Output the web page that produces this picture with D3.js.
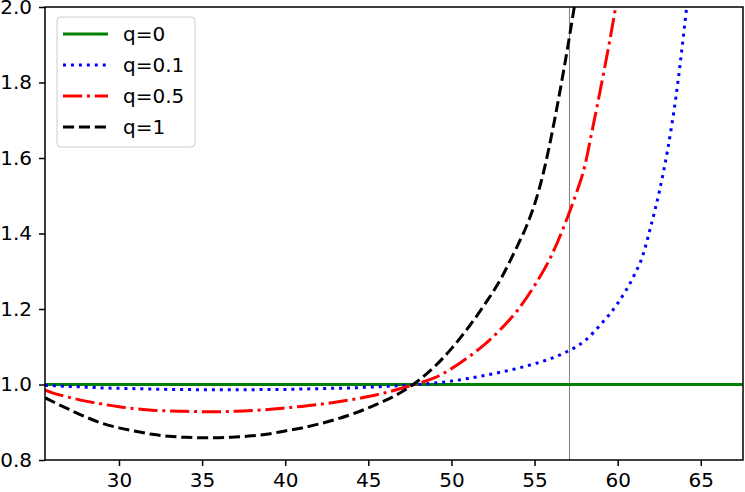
<!DOCTYPE html>
<html>
<head>
<meta charset="utf-8">
<script src="https://cdn.jsdelivr.net/npm/d3@7"></script>
<style>
  body { margin: 0; background: #fff; }
  svg { display: block; font-family: "DejaVu Sans", sans-serif; }
</style>
</head>
<body>
<div id="chart"></div>
<script>
// ---- data ----
const labels = ["q=0", "q=0.1", "q=0.5", "q=1"];
const xTicks = [30, 35, 40, 45, 50, 55, 60, 65];
const yTicks = [0.8, 1.0, 1.2, 1.4, 1.6, 1.8, 2.0];
const markerX = 57.1;

const xQ0 = [25.55, 67.54];
const yQ0 = [1.0, 1.0];

const xQ01 = [25.55, 26, 27, 28, 29, 30, 31, 32, 33, 34, 35, 36, 37, 38, 39, 40, 41, 42, 43, 44, 45, 46, 47, 48,
              49, 50, 51, 52, 53, 54, 55, 56, 57, 58, 59, 60, 61, 61.5, 62, 62.5, 63, 63.5, 64, 64.3];
const yQ01 = [0.998, 0.997, 0.995, 0.993, 0.991, 0.990, 0.989, 0.988, 0.987, 0.987, 0.986, 0.986, 0.986, 0.986,
              0.987, 0.987, 0.988, 0.989, 0.990, 0.991, 0.993, 0.995, 0.997, 1.000, 1.004, 1.009, 1.016, 1.024,
              1.033, 1.043, 1.055, 1.069, 1.088, 1.115, 1.160, 1.215, 1.290, 1.340, 1.420, 1.510, 1.620, 1.760,
              1.940, 2.060];

const xQ05 = [25.55, 26, 27, 28, 29, 30, 31, 32, 33, 34, 35, 36, 37, 38, 39, 40, 41, 42, 43, 44, 45, 46, 47, 48,
              49, 50, 51, 52, 53, 54, 55, 56, 57, 57.5, 58, 58.5, 59, 59.5, 60, 60.2];
const yQ05 = [0.985, 0.978, 0.966, 0.956, 0.948, 0.941, 0.936, 0.932, 0.930, 0.929, 0.928, 0.928, 0.929, 0.931,
              0.934, 0.938, 0.942, 0.947, 0.953, 0.960, 0.968, 0.978, 0.990, 1.003, 1.018, 1.042, 1.072, 1.106,
              1.148, 1.198, 1.262, 1.340, 1.445, 1.505, 1.575, 1.680, 1.790, 1.905, 2.030, 2.080];

const xQ1 = [25.55, 26, 27, 28, 29, 30, 31, 32, 33, 34, 35, 36, 37, 38, 39, 40, 41, 42, 43, 44, 45, 46, 47, 48,
             49, 50, 51, 52, 53, 53.5, 54, 54.5, 55, 55.5, 56, 56.5, 57, 57.5, 57.7];
const yQ1 = [0.965, 0.955, 0.934, 0.914, 0.897, 0.885, 0.876, 0.868, 0.863, 0.860, 0.859, 0.859, 0.861, 0.864,
             0.869, 0.877, 0.885, 0.895, 0.907, 0.921, 0.938, 0.957, 0.980, 1.010, 1.048, 1.095, 1.150, 1.212,
             1.282, 1.325, 1.370, 1.418, 1.477, 1.555, 1.655, 1.770, 1.895, 2.030, 2.085];

const series = [
  {label: labels[0], xs: xQ0, ys: yQ0, color: "green", dash: null},
  {label: labels[1], xs: xQ01, ys: yQ01, color: "blue", dash: "3,4.95"},
  {label: labels[2], xs: xQ05, ys: yQ05, color: "red", dash: "19.2,4.8,3,4.8"},
  {label: labels[3], xs: xQ1, ys: yQ1, color: "black", dash: "11.1,4.8"},
];

// ---- layout ----
let config_size = {
  svg_width: 745,
  svg_height: 492,
  plot_margin: {left: 45, right: 2, top: 7, bottom: 32},
};
let plot_width = config_size.svg_width - config_size.plot_margin.left - config_size.plot_margin.right;
let plot_height = config_size.svg_height - config_size.plot_margin.top - config_size.plot_margin.bottom;

let svg = d3.select("#chart").append("svg")
  .attr("width", config_size.svg_width).attr("height", config_size.svg_height);
let plot_g = svg.append("g")
  .attr("transform", `translate(${config_size.plot_margin.left},${config_size.plot_margin.top})`);

let x = d3.scaleLinear().domain([25.55, 67.54]).range([0, plot_width]);
let y = d3.scaleLinear().domain([0.8, 2.0]).range([plot_height, 0]);

plot_g.append("clipPath").attr("id", "clip")
  .append("rect").attr("width", plot_width).attr("height", plot_height);

let lines_g = plot_g.append("g").attr("clip-path", "url(#clip)");

// thin gray marker
lines_g.append("line")
  .attr("x1", x(markerX)).attr("x2", x(markerX))
  .attr("y1", 0).attr("y2", plot_height)
  .attr("stroke", "#808080").attr("stroke-width", 1);

let line = d3.line().curve(d3.curveMonotoneX);
series.forEach(s => {
  lines_g.append("path")
    .datum(s.xs.map((v, i) => [x(v), y(s.ys[i])]))
    .attr("fill", "none")
    .attr("stroke", s.color)
    .attr("stroke-width", 3)
    .attr("stroke-dasharray", s.dash)
    .attr("d", line);
});

// axes
let xAxis = plot_g.append("g")
  .attr("transform", `translate(0,${plot_height})`)
  .call(d3.axisBottom(x).tickValues(xTicks).tickFormat(d3.format("d")).tickSizeOuter(0).tickSize(6).tickPadding(7));
let yAxis = plot_g.append("g")
  .call(d3.axisLeft(y).tickValues(yTicks).tickFormat(d3.format(".1f")).tickSizeOuter(0).tickSize(6).tickPadding(7));
[xAxis, yAxis].forEach(a => {
  a.select(".domain").remove();
  a.selectAll(".tick line").attr("stroke", "#000").attr("stroke-width", 1.5);
  a.selectAll(".tick text").attr("fill", "#000").style("font-size", "20px")
    .style("font-family", "'DejaVu Sans', sans-serif");
});

// frame
plot_g.append("rect")
  .attr("width", plot_width).attr("height", plot_height)
  .attr("fill", "none").attr("stroke", "#000").attr("stroke-width", 1.5);

// legend
let legend = plot_g.append("g").attr("transform", `translate(12,10)`);
legend.append("rect")
  .attr("width", 138).attr("height", 130).attr("rx", 4)
  .attr("fill", "#fff").attr("fill-opacity", 0.8)
  .attr("stroke", "#cccccc").attr("stroke-width", 1);
series.forEach((s, i) => {
  let row = legend.append("g").attr("transform", `translate(0,${17 + i * 31})`);
  row.append("line")
    .attr("x1", 6).attr("x2", 51).attr("y1", 0).attr("y2", 0)
    .attr("stroke", s.color).attr("stroke-width", 3)
    .attr("stroke-dasharray", s.dash);
  row.append("text")
    .attr("x", 66).attr("y", 0).attr("dy", "0.35em")
    .style("font-size", "20px")
    .text(s.label);
});
</script>
</body>
</html>
